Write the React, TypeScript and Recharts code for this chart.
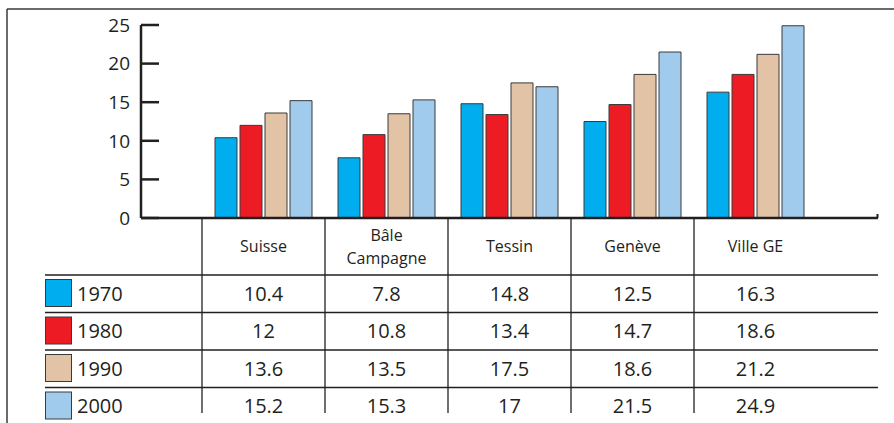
import { BarChart, Bar, XAxis, YAxis } from 'recharts';

const CATEGORIES = ['Suisse', 'Bâle\nCampagne', 'Tessin', 'Genève', 'Ville GE'];
const YEARS = ['1970', '1980', '1990', '2000'];
const V1970 = [10.4, 7.8, 14.8, 12.5, 16.3];
const V1980 = [12, 10.8, 13.4, 14.7, 18.6];
const V1990 = [13.6, 13.5, 17.5, 18.6, 21.2];
const V2000 = [15.2, 15.3, 17, 21.5, 24.9];
const Y_TICKS = [0, 5, 10, 15, 20, 25];

const SERIES = [V1970, V1980, V1990, V2000];
const COLORS = ['#00aeef', '#ed1c24', '#e2c3a6', '#a1cbec'];

const data = CATEGORIES.map((name, i) => ({
    name,
    y1970: V1970[i],
    y1980: V1980[i],
    y1990: V1990[i],
    y2000: V2000[i],
}));

// layout
const W = 894;
const H = 423;
const CHART_H = 413;
const MARGIN = { top: 25, right: 16, left: 0, bottom: 0 };
const Y_AXIS_W = 141;
const X_AXIS_H = 195;
const PAD = 61;
const HEADER_H = 57;
const ROW_H = 37.5;
const INK = '#231f20';
const FONT = "'Open Sans', sans-serif";

const plotLeft = MARGIN.left + Y_AXIS_W;
const plotRight = W - MARGIN.right;
const plotBottom = CHART_H - MARGIN.bottom - X_AXIS_H;
const step = (plotRight - plotLeft - 2 * PAD) / CATEGORIES.length;

function ValueTick(props: any) {
    const { x, y, payload } = props;
    return (
        <g>
            <line x1={x} x2={x + 18} y1={y} y2={y} stroke={INK} strokeWidth={2.5} />
            <text x={x - 11} y={y} dy="0.36em" textAnchor="end" fontSize={19} fill={INK} fontFamily={FONT}>
                {payload.value}
            </text>
        </g>
    );
}

function CategoryTick(props: any) {
    const { x, y, payload, index } = props;
    const lines = String(payload.value).split('\n');
    const left = x - step / 2;
    return (
        <g>
            <line x1={left} x2={left} y1={y} y2={y + X_AXIS_H} stroke={INK} strokeWidth={1.3} />
            <text x={x} y={y + HEADER_H / 2} textAnchor="middle" fontSize={16} fill={INK} fontFamily={FONT}>
                {lines.map((l, k) => (
                    <tspan key={k} x={x} dy={k === 0 ? `${0.35 - (lines.length - 1) * 0.72}em` : '1.44em'}>
                        {l}
                    </tspan>
                ))}
            </text>
            {SERIES.map((s, r) => (
                <text
                    key={r}
                    x={x}
                    y={y + HEADER_H + ROW_H * (r + 0.5)}
                    dy="0.36em"
                    textAnchor="middle"
                    fontSize={20}
                    fill={INK}
                    fontFamily={FONT}
                >
                    {String(s[index])}
                </text>
            ))}
        </g>
    );
}

function TableFrame() {
    return (
        <svg width={W} height={H} style={{ position: 'absolute', left: 0, top: 0, pointerEvents: 'none' }}>
            <line x1={7} x2={7} y1={9} y2={H} stroke="#3a3a3a" strokeWidth={1.5} />
            <line x1={7} x2={W} y1={9} y2={9} stroke="#3a3a3a" strokeWidth={1.5} />
            <line x1={plotRight - 0.5} x2={plotRight - 0.5} y1={plotBottom - 4} y2={plotBottom} stroke={INK} strokeWidth={2} />
            {YEARS.map((yr, r) => {
                const top = plotBottom + HEADER_H + ROW_H * r;
                return (
                    <g key={yr}>
                        <line x1={45} x2={plotRight} y1={top} y2={top} stroke={INK} strokeWidth={1.3} />
                        <rect x={45.5} y={top + 4.5} width={26} height={27} fill={COLORS[r]} stroke="#3a3a3a" strokeWidth={1} />
                        <text x={77} y={top + ROW_H / 2} dy="0.36em" fontSize={20} fill={INK} fontFamily={FONT}>
                            {yr}
                        </text>
                    </g>
                );
            })}
        </svg>
    );
}

export default function App() {
    return (
        <div style={{ position: 'absolute', left: 0, top: 0, width: W, height: H, background: '#fff' }}>
            <BarChart width={W} height={CHART_H} data={data} margin={MARGIN} barGap={3}>
                <XAxis
                    dataKey="name"
                    height={X_AXIS_H}
                    interval={0}
                    padding={{ left: PAD, right: PAD }}
                    axisLine={{ stroke: INK, strokeWidth: 2.5 }}
                    tickLine={false}
                    tickSize={0}
                    tickMargin={0}
                    tick={<CategoryTick />}
                />
                <YAxis
                    width={Y_AXIS_W}
                    domain={[0, 25]}
                    ticks={Y_TICKS}
                    interval={0}
                    axisLine={{ stroke: INK, strokeWidth: 2.5 }}
                    tickLine={false}
                    tickSize={0}
                    tickMargin={0}
                    tick={<ValueTick />}
                />
                <Bar dataKey="y1970" fill={COLORS[0]} stroke="#3a3a3a" strokeWidth={1} barSize={22} isAnimationActive={false} />
                <Bar dataKey="y1980" fill={COLORS[1]} stroke="#3a3a3a" strokeWidth={1} barSize={22} isAnimationActive={false} />
                <Bar dataKey="y1990" fill={COLORS[2]} stroke="#3a3a3a" strokeWidth={1} barSize={22} isAnimationActive={false} />
                <Bar dataKey="y2000" fill={COLORS[3]} stroke="#3a3a3a" strokeWidth={1} barSize={22} isAnimationActive={false} />
            </BarChart>
            <TableFrame />
        </div>
    );
}
